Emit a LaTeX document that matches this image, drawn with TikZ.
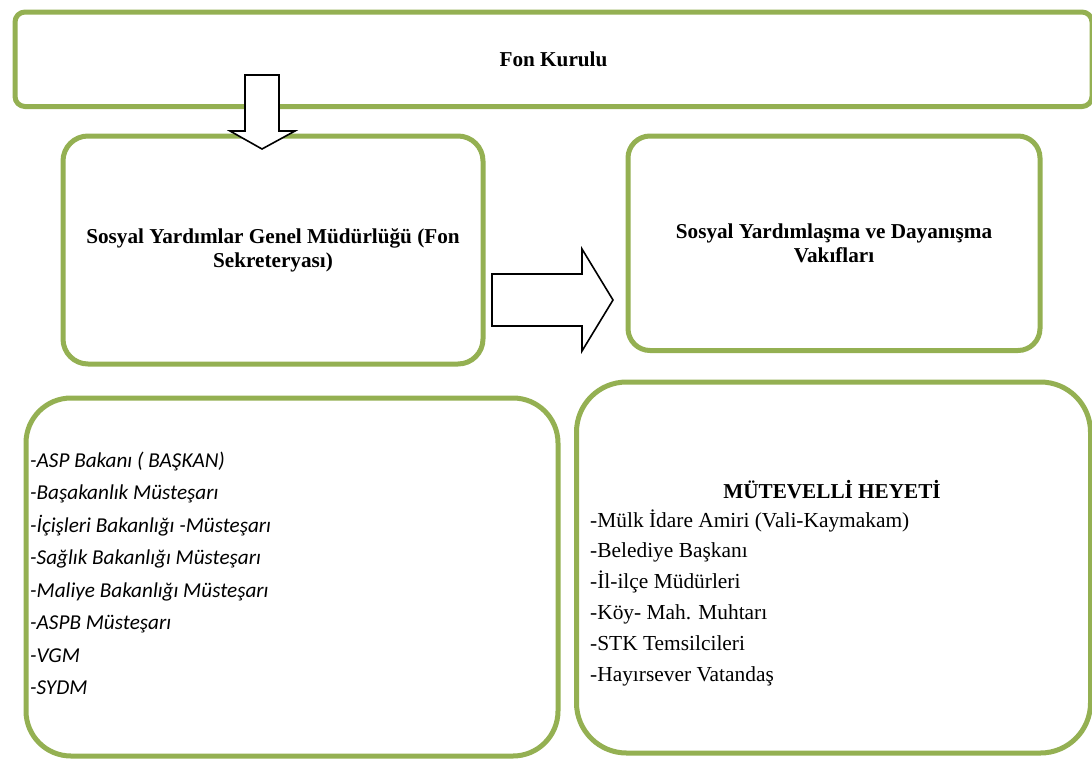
\documentclass[tikz,border=0pt]{standalone}
\usepackage{fontspec}
\setmainfont{Liberation Serif}
\newfontfamily\calib{Carlito}
\definecolor{boxgreen}{RGB}{148,176,82}
\begin{document}
\begin{tikzpicture}[x=1pt,y=-1pt,
  gbox/.style={draw=boxgreen, line width=5pt, fill=white, inner sep=0pt, anchor=north west, align=center},
  titletext/.style={font=\fontsize{21.2}{24}\selectfont\bfseries},
  leftitem/.style={anchor=base west, inner sep=0pt, font=\calib\itshape\fontsize{21.2}{24}\selectfont},
  rightitem/.style={anchor=base west, inner sep=0pt, font=\fontsize{21.4}{24}\selectfont},
  blockarrow/.style={draw=black, line width=1.6pt, fill=white, line join=miter}
]
\useasboundingbox (0,0) rectangle (1092,758);
% boxes
\node[gbox, titletext, rounded corners=10pt, minimum width=1077pt, minimum height=94.5pt] (fon) at (12.5,9.5) {Fon Kurulu};
\node[gbox, titletext, rounded corners=25pt, minimum width=420pt, minimum height=228pt] (sygm) at (60.5,133.5) {Sosyal Yardımlar Genel Müdürlüğü (Fon\\Sekreteryası)};
\node[gbox, titletext, rounded corners=22pt, minimum width=412pt, minimum height=214.5pt] (sydv) at (625.5,133.5) {Sosyal Yardımlaşma ve Dayanışma\\Vakıfları};
\node[gbox, rounded corners=45pt, minimum width=532pt, minimum height=358pt] (fonlist) at (23.5,395.5) {};
\node[gbox, rounded corners=50pt, minimum width=514pt, minimum height=371pt] (mutevelli) at (574,379.5) {};
% down arrow
\draw[blockarrow] (245,75) -- (279,75) -- (279,131) -- (295,131) -- (262,149) -- (230,131) -- (245,131) -- cycle;
% right arrow
\draw[blockarrow] (492,274) -- (582,274) -- (582,249) -- (613,300) -- (582,351) -- (582,326) -- (492,326) -- cycle;
% left list
\node[leftitem] (l1) at (30,467) {-ASP Bakanı ( BAŞKAN)};
\node[leftitem] (l2) at (30,499.5) {-Başakanlık Müsteşarı};
\node[leftitem] (l3) at (30,532) {-İçişleri Bakanlığı -Müsteşarı};
\node[leftitem] (l4) at (30,564.5) {-Sağlık Bakanlığı Müsteşarı};
\node[leftitem] (l5) at (30,597) {-Maliye Bakanlığı Müsteşarı};
\node[leftitem] (l6) at (30,629.5) {-ASPB Müsteşarı};
\node[leftitem] (l7) at (30,662) {-VGM};
\node[leftitem] (l8) at (30,694.5) {-SYDM};
% right list
\node[anchor=base, inner sep=0pt, titletext] (mh) at (832,498) {MÜTEVELLİ HEYETİ};
\node[rightitem] (r1) at (590,527) {-Mülk İdare Amiri (Vali-Kaymakam)};
\node[rightitem] (r2) at (590,557.5) {-Belediye Başkanı};
\node[rightitem] (r3) at (590,588.5) {-İl-ilçe Müdürleri};
\node[rightitem] (r4) at (590,619.5) {-Köy- Mah. Muhtarı};
\node[rightitem] (r5) at (590,650.5) {-STK Temsilcileri};
\node[rightitem] (r6) at (590,681) {-Hayırsever Vatandaş};
\end{tikzpicture}
\end{document}
